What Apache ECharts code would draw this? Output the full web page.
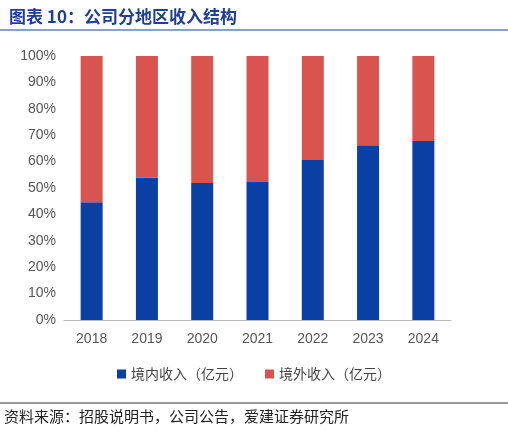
<!DOCTYPE html>
<html><head><meta charset="utf-8">
<script src="https://cdn.jsdelivr.net/npm/echarts@6/dist/echarts.min.js"></script>
<style>body{margin:0;background:#fff}#c{width:508px;height:436px}</style></head>
<body><div id="c"></div>
<script>
const categories=['2018','2019','2020','2021','2022','2023','2024'];
const domestic=[44.6,53.9,51.9,52.3,60.6,66.2,67.8];
const overseas=domestic.map(v=>+(100-v).toFixed(1));
const chart=echarts.init(document.getElementById('c'));
chart.setOption({
  animation:false,
  title:{text:'图表 10：公司分地区收入结构',left:4,top:3,textStyle:{fontSize:17,fontWeight:'bold',color:'#1f3f8f',fontFamily:'Noto Sans CJK SC'}},
  graphic:[
    {type:'line',shape:{x1:0,y1:30,x2:508,y2:30},style:{stroke:'#1f3f8f',lineWidth:1}},
    {type:'line',shape:{x1:0,y1:403,x2:508,y2:403},style:{stroke:'#333',lineWidth:1}},
    {type:'text',left:4,top:409,style:{text:'资料来源：招股说明书，公司公告，爱建证券研究所',fontSize:15,fill:'#222',fontFamily:'Noto Sans CJK SC'}}
  ],
  legend:{bottom:50,itemWidth:9,itemHeight:9,itemGap:22,icon:'rect',textStyle:{fontSize:14,color:'#444',fontFamily:'Noto Sans CJK SC'}},
  grid:{left:64,right:57,top:56,bottom:116},
  xAxis:{type:'category',data:categories,axisTick:{show:false},axisLine:{lineStyle:{color:'#bbb'}},axisLabel:{fontSize:14,color:'#555',margin:12}},
  yAxis:{type:'value',min:0,max:100,interval:10,axisLabel:{formatter:'{value}%',fontSize:14,color:'#555'},splitLine:{show:false}},
  series:[
    {name:'境内收入（亿元）',type:'bar',stack:'a',data:domestic,barWidth:22,itemStyle:{color:'#0a3fa3'}},
    {name:'境外收入（亿元）',type:'bar',stack:'a',data:overseas,barWidth:22,itemStyle:{color:'#d9534f'}}
  ]
});
</script></body></html>
